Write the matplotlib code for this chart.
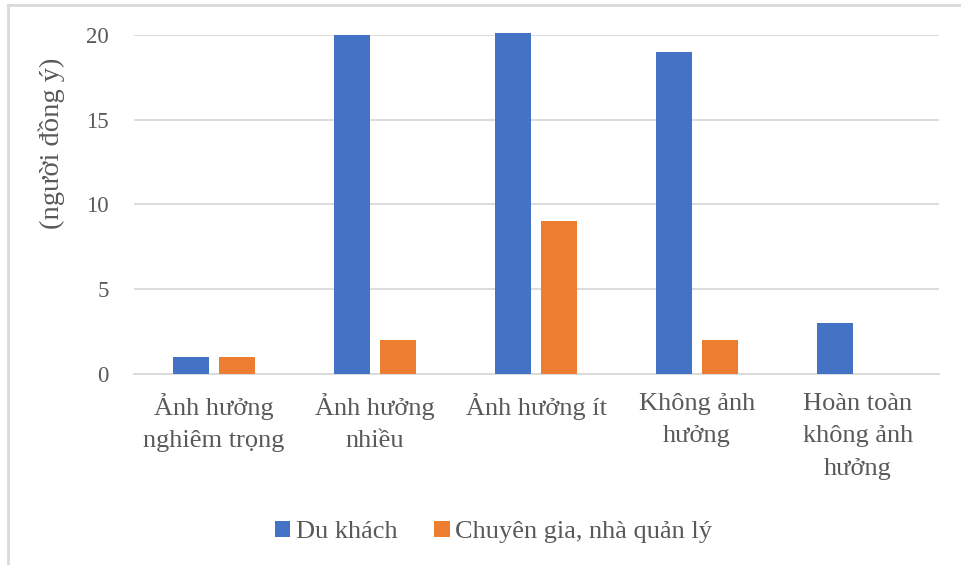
# -*- coding: utf-8 -*-

import matplotlib
matplotlib.use('Agg')
import matplotlib.pyplot as plt
from matplotlib.lines import Line2D
import numpy as np

plt.rcParams['font.family'] = ['Liberation Serif', 'DejaVu Serif']

categories = ['Ảnh hưởng\nnghiêm trọng', 'Ảnh hưởng\nnhiều', 'Ảnh hưởng ít',
              'Không ảnh\nhưởng', 'Hoàn toàn\nkhông ảnh\nhưởng']
du_khach = [1, 20, 20.1, 19, 3]
chuyen_gia = [1, 2, 9, 2, 0]
series_names = ['Du khách', 'Chuyên gia, nhà quản lý']

BLUE = '#4472C4'
ORANGE = '#ED7D31'
TEXT = '#595959'
GRID = '#D9D9D9'

W, H = 961, 565
fig = plt.figure(figsize=(W / 100, H / 100), dpi=100)
ax = fig.add_axes([133.5 / W, 1 - 373.5 / H, 805 / W, 338.5 / H])

x = np.arange(len(categories))
bw = 0.226
off = 0.143
b1 = ax.bar(x - off, du_khach, bw, color=BLUE, label=series_names[0], zorder=3, clip_on=False)
b2 = ax.bar(x + off, chuyen_gia, bw, color=ORANGE, label=series_names[1], zorder=3, clip_on=False)

ax.set_xlim(-0.5, len(categories) - 0.5)
ax.set_ylim(0, 20)
ax.set_yticks([0, 5, 10, 15, 20])
ax.yaxis.grid(True, color=GRID, linewidth=1.3, zorder=0)
ax.set_axisbelow(True)
for s in ['left', 'right', 'top']:
    ax.spines[s].set_visible(False)
ax.spines['bottom'].set_color(GRID)
ax.spines['bottom'].set_linewidth(1.3)
ax.tick_params(axis='y', length=0, labelsize=16.5, labelcolor=TEXT, pad=18)
ax.tick_params(axis='x', length=0, labelsize=19, labelcolor=TEXT, pad=14)
ax.set_xticks(x)
ax.set_xticklabels(categories, linespacing=1.62)

fig.text(52 / W, 1 - 143 / H, '(người đồng ý)', rotation=90, ha='center', va='center',
         fontsize=20.5, color=TEXT)

fig.legend(handles=[b1, b2], loc='center', bbox_to_anchor=(493.5 / W, 1 - 532 / H), ncol=2,
           frameon=False, fontsize=19, labelcolor=TEXT, handlelength=0.6, handleheight=0.6,
           handletextpad=0.2, columnspacing=1.4, borderpad=0, borderaxespad=0)

# chart border (top and left only visible)
fig.add_artist(Line2D([8 / W, 8 / W], [0, 1 - 5 / H], color=GRID, linewidth=2))
fig.add_artist(Line2D([8 / W, 1], [1 - 5 / H, 1 - 5 / H], color=GRID, linewidth=2))

fig.savefig('out.png', dpi=100)
